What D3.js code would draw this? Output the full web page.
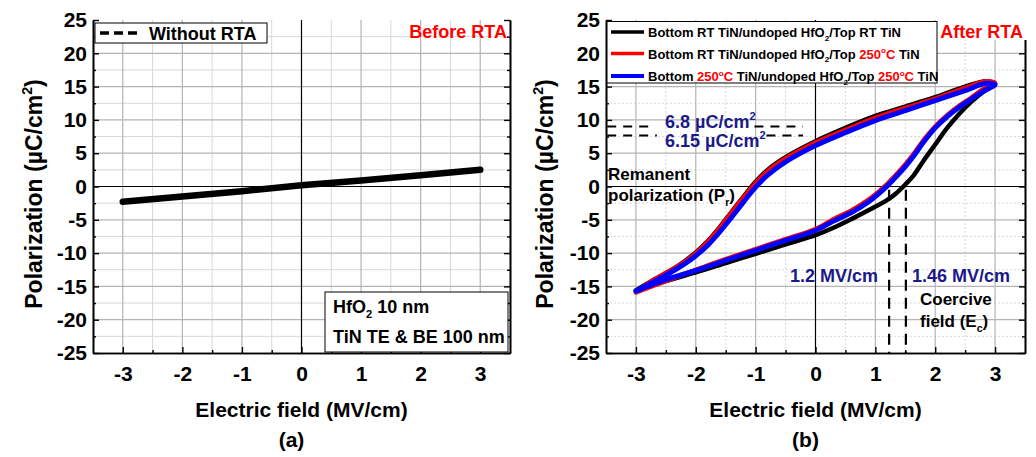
<!DOCTYPE html>
<html>
<head>
<meta charset="utf-8">
<script src="https://cdn.jsdelivr.net/npm/d3@7"></script>
<style>
  body { margin: 0; background: #fff; }
  svg { display: block; font-family: "Liberation Sans", Arial, sans-serif; }
</style>
</head>
<body>
<div id="app"></div>
<script>
(function (d3) {
  'use strict'

  // ---- data ----
  const xTicks = [-3, -2, -1, 0, 1, 2, 3]
  const yTicks = [-25, -20, -15, -10, -5, 0, 5, 10, 15, 20, 25]
  const xMinor = [-2.5, -1.5, -0.5, 0.5, 1.5, 2.5]
  const yMinor = [-22.5, -17.5, -12.5, -7.5, -2.5, 2.5, 7.5, 12.5, 17.5, 22.5]

  // (a) before RTA
  const noRtaField = [-3, -2, -1, 0, 1, 2, 3]
  const noRtaPol = [-2.3, -1.5, -0.7, 0.2, 0.9, 1.7, 2.5]

  // (b) after RTA, hysteresis loops: lower branch (field rising), upper branch (field falling)
  const fieldLower = [-3, -2.5, -2, -1.5, -1, -0.5, 0, 0.3, 0.6, 0.9, 1.2, 1.35, 1.5, 1.65, 1.8, 2.0, 2.2, 2.4, 2.6, 2.8, 3]
  const fieldUpper = [3, 2.85, 2.5, 2.0, 1.5, 1.0, 0.5, 0, -0.5, -0.8, -1.0, -1.2, -1.4, -1.6, -1.8, -2.0, -2.2, -2.4, -2.7, -3]

  const rtRtLower = [-15.6, -14.2, -12.9, -11.5, -10.1, -8.7, -7.3, -6.2, -4.9, -3.5, -2.0, -1.0, 0.3, 1.8, 3.8, 6.3, 8.8, 10.9, 12.7, 14.2, 15.4]
  const rtRtUpper = [15.4, 15.8, 15.0, 13.4, 12.0, 10.6, 8.8, 6.8, 4.4, 2.5, 0.7, -1.5, -3.8, -6.1, -8.2, -9.9, -11.3, -12.5, -14.0, -15.6]

  const rt250Lower = [-15.9, -14.2, -12.5, -10.9, -9.4, -7.9, -6.4, -4.9, -3.6, -1.9, 0.4, 1.8, 3.3, 5.0, 6.9, 9.0, 10.7, 12.1, 13.3, 14.6, 15.5]
  const rt250Upper = [15.5, 15.8, 14.8, 13.2, 11.8, 10.3, 8.5, 6.6, 4.2, 2.3, 0.5, -1.6, -3.9, -6.2, -8.3, -10.0, -11.4, -12.5, -14.0, -15.9]

  const t250Lower = [-15.7, -14.0, -12.6, -11.1, -9.6, -8.1, -6.6, -5.2, -3.9, -2.2, 0.1, 1.5, 3.0, 4.7, 6.6, 8.8, 10.5, 11.9, 13.1, 14.3, 15.3]
  const t250Upper = [15.3, 15.5, 14.4, 12.9, 11.4, 9.9, 8.1, 6.15, 3.7, 1.7, -0.1, -2.3, -4.6, -6.8, -8.8, -10.4, -11.7, -12.8, -14.3, -15.7]

  const remanent = [6.8, 6.15]
  const coercive = [1.2, 1.46]

  const FONT = '"Liberation Sans", Arial, sans-serif'
  const NAVY = '#1a1a8a'

  const svg = d3.select('#app').append('svg')
    .attr('width', 1036)
    .attr('height', 457)

  // draw text made of parts, some raised or lowered
  const richText = function (g, x, y, parts, opts) {
    const fs = opts.size
    const t = g.append('text')
      .attr('x', x).attr('y', y)
      .attr('font-size', fs)
      .attr('font-weight', opts.weight || 'bold')
      .attr('text-anchor', opts.anchor || 'start')
      .attr('fill', opts.fill || '#000')
    if (opts.transform) t.attr('transform', opts.transform)
    let shift = 0
    parts.forEach(function (p) {
      const s = t.append('tspan').text(p.t)
      let want = 0
      if (p.sup) want = -fs * 0.42
      if (p.sub) want = fs * 0.28
      if (want !== shift) { s.attr('dy', want - shift); shift = want }
      if (p.sup || p.sub) s.attr('font-size', fs * 0.62)
      if (p.fill) s.attr('fill', p.fill)
    })
    return t
  }

  const drawFrame = function (g, x, y, minorDash) {
    const [x0, x1] = x.range()
    const [y0, y1] = y.range()
    // grid
    g.append('g').selectAll('line').data(xMinor).enter().append('line')
      .attr('x1', d => x(d)).attr('x2', d => x(d)).attr('y1', y0).attr('y2', y1)
      .attr('stroke', '#d8d8d8').attr('stroke-width', 1)
      .attr('stroke-dasharray', minorDash ? '2,2' : null)
    g.append('g').selectAll('line').data(yMinor).enter().append('line')
      .attr('y1', d => y(d)).attr('y2', d => y(d)).attr('x1', x0).attr('x2', x1)
      .attr('stroke', '#d8d8d8').attr('stroke-width', 1)
      .attr('stroke-dasharray', minorDash ? '2,2' : null)
    g.append('g').selectAll('line').data(xTicks.filter(d => d !== 0)).enter().append('line')
      .attr('x1', d => x(d)).attr('x2', d => x(d)).attr('y1', y0).attr('y2', y1)
      .attr('stroke', '#b4b4b4').attr('stroke-width', 1.2)
    g.append('g').selectAll('line').data(yTicks.filter(d => d !== 0 && d !== 25 && d !== -25)).enter().append('line')
      .attr('y1', d => y(d)).attr('y2', d => y(d)).attr('x1', x0).attr('x2', x1)
      .attr('stroke', '#b4b4b4').attr('stroke-width', 1.2)
    // zero lines
    g.append('line').attr('x1', x(0)).attr('x2', x(0)).attr('y1', y0).attr('y2', y1)
      .attr('stroke', '#000').attr('stroke-width', 1.2)
    g.append('line').attr('x1', x0).attr('x2', x1).attr('y1', y(0)).attr('y2', y(0))
      .attr('stroke', '#000').attr('stroke-width', 1.2)

    // axes
    const styleAxis = function (a) {
      a.select('.domain').attr('stroke', '#000').attr('stroke-width', 1.6)
      a.selectAll('.tick line').attr('stroke', '#000').attr('stroke-width', 1.4)
      a.selectAll('.tick text').attr('fill', '#000').attr('font-size', 21)
        .attr('font-weight', 'bold').attr('font-family', FONT)
    }
    g.append('g').attr('transform', 'translate(' + x0 + ',0)')
      .call(d3.axisLeft(y).tickValues(yTicks).tickSize(-6).tickSizeOuter(0).tickPadding(6).tickFormat(d => String(d)))
      .call(styleAxis)
    g.append('g').attr('transform', 'translate(' + x0 + ',0)')
      .call(d3.axisLeft(y).tickValues(yMinor).tickSize(-3).tickSizeOuter(0).tickFormat(''))
      .call(styleAxis)
    g.append('g').attr('transform', 'translate(' + x1 + ',0)')
      .call(d3.axisRight(y).tickValues(yTicks).tickSize(-6).tickSizeOuter(0).tickFormat(''))
      .call(styleAxis)
    g.append('g').attr('transform', 'translate(' + x1 + ',0)')
      .call(d3.axisRight(y).tickValues(yMinor).tickSize(-3).tickSizeOuter(0).tickFormat(''))
      .call(styleAxis)
    g.append('g').attr('transform', 'translate(0,' + y0 + ')')
      .call(d3.axisBottom(x).tickValues(xTicks).tickSize(-6).tickSizeOuter(0).tickPadding(13).tickFormat(d => String(d)))
      .call(styleAxis)
    g.append('g').attr('transform', 'translate(0,' + y0 + ')')
      .call(d3.axisBottom(x).tickValues(xMinor).tickSize(-3).tickSizeOuter(0).tickFormat(''))
      .call(styleAxis)
  }

  const axisTitles = function (g, x, y, yLabelX, letter) {
    const [x0, x1] = x.range()
    const cx = (x0 + x1) / 2
    richText(g, 0, 0, [{ t: 'Polarization (µC/cm' }, { t: '2', sup: true }, { t: ')' }],
      { size: 23, anchor: 'middle', transform: 'translate(' + yLabelX + ',194) rotate(-90)' })
    g.append('text').attr('x', cx).attr('y', 417).attr('text-anchor', 'middle')
      .attr('font-size', 21).attr('font-weight', 'bold').text('Electric field (MV/cm)')
    g.append('text').attr('x', cx - 10).attr('y', 447).attr('text-anchor', 'middle')
      .attr('font-size', 21).attr('font-weight', 'bold').text(letter)
  }

  // ---------- panel (a) ----------
  const xa = d3.scaleLinear().domain([-3.5, 3.5]).range([93, 510])
  const ya = d3.scaleLinear().domain([-25, 25]).range([353, 20])
  const ga = svg.append('g')
  drawFrame(ga, xa, ya, false)

  const lineA = d3.line().x(d => xa(d[0])).y(d => ya(d[1]))
  ga.append('path')
    .datum(noRtaField.map((e, i) => [e, noRtaPol[i]]))
    .attr('d', lineA)
    .attr('fill', 'none').attr('stroke', '#000').attr('stroke-width', 6.5)
    .attr('stroke-linecap', 'round')

  // legend (a)
  ga.append('rect').attr('x', 95).attr('y', 23).attr('width', 172).attr('height', 20)
    .attr('fill', '#fff').attr('stroke', '#000').attr('stroke-width', 1)
  ga.append('line').attr('x1', 100).attr('x2', 141).attr('y1', 33).attr('y2', 33)
    .attr('stroke', '#000').attr('stroke-width', 3.5).attr('stroke-dasharray', '9,5')
  ga.append('text').attr('x', 149).attr('y', 40).attr('font-size', 18).attr('font-weight', 'bold')
    .text('Without RTA')
  ga.append('text').attr('x', 507).attr('y', 38).attr('text-anchor', 'end')
    .attr('font-size', 18).attr('font-weight', 'bold').attr('fill', '#ff0000').text('Before RTA')

  // sample box (a)
  ga.append('rect').attr('x', 325).attr('y', 292).attr('width', 183).attr('height', 60)
    .attr('fill', '#fff').attr('stroke', '#000').attr('stroke-width', 1)
  richText(ga, 333, 313, [{ t: 'HfO' }, { t: '2', sub: true }, { t: ' 10 nm' }], { size: 18 })
  ga.append('text').attr('x', 333).attr('y', 343).attr('font-size', 18).attr('font-weight', 'bold')
    .text('TiN TE & BE 100 nm')

  axisTitles(ga, xa, ya, 42, '(a)')

  // ---------- panel (b) ----------
  const xb = d3.scaleLinear().domain([-3.5, 3.5]).range([606, 1025])
  const yb = d3.scaleLinear().domain([-25, 25]).range([353, 20])
  const gb = svg.append('g')
  drawFrame(gb, xb, yb, true)

  const loopLine = d3.line()
    .x(d => xb(d[0])).y(d => yb(d[1]))
    .curve(d3.curveCatmullRom.alpha(0.5))

  const loops = [
    { lower: rtRtLower, upper: rtRtUpper, color: '#000000', width: 4.5 },
    { lower: rt250Lower, upper: rt250Upper, color: '#ff0000', width: 4.5 },
    { lower: t250Lower, upper: t250Upper, color: '#0000ff', width: 5 }
  ]
  loops.forEach(function (c) {
    const pts = fieldLower.map((e, i) => [e, c.lower[i]])
      .concat(fieldUpper.slice(1).map((e, i) => [e, c.upper[i + 1]]))
    gb.append('path').datum(pts).attr('d', loopLine)
      .attr('fill', 'none').attr('stroke', c.color).attr('stroke-width', c.width)
      .attr('stroke-linejoin', 'round').attr('stroke-linecap', 'round')
  })

  // remanent polarization guides
  const dash = '9,7'
  const guideY = [9.0, 7.65]
  const guideSeg = [[[-3.48, -2.73], [-1.02, -0.21]], [[-3.48, -2.65], [-0.82, -0.21]]]
  guideY.forEach(function (p, i) {
    guideSeg[i].forEach(function (s) {
      gb.append('line').attr('x1', xb(s[0])).attr('x2', xb(s[1])).attr('y1', yb(p)).attr('y2', yb(p))
        .attr('stroke', '#000').attr('stroke-width', 2).attr('stroke-dasharray', dash)
    })
  })
  richText(gb, 665, 128, [{ t: remanent[0] + ' µC/cm' }, { t: '2', sup: true }], { size: 18, fill: NAVY })
  richText(gb, 665, 147, [{ t: remanent[1] + ' µC/cm' }, { t: '2', sup: true }], { size: 18, fill: NAVY })
  gb.append('text').attr('x', 608).attr('y', 180).attr('font-size', 17).attr('font-weight', 'bold').text('Remanent')
  richText(gb, 608, 201, [{ t: 'polarization (P' }, { t: 'r', sub: true }, { t: ')' }], { size: 17 })

  // coercive field guides
  const guideX = [1.23, 1.51]
  guideX.forEach(function (e) {
    gb.append('line').attr('x1', xb(e)).attr('x2', xb(e)).attr('y1', yb(-0.5)).attr('y2', yb(-25))
      .attr('stroke', '#000').attr('stroke-width', 2.2).attr('stroke-dasharray', '11,7')
  })
  gb.append('text').attr('x', 790).attr('y', 282).attr('font-size', 18).attr('font-weight', 'bold')
    .attr('fill', NAVY).text(coercive[0] + ' MV/cm')
  gb.append('text').attr('x', 912).attr('y', 282).attr('font-size', 18).attr('font-weight', 'bold')
    .attr('fill', NAVY).text(coercive[1] + ' MV/cm')
  gb.append('text').attr('x', 920).attr('y', 305).attr('font-size', 17).attr('font-weight', 'bold').text('Coercive')
  richText(gb, 920, 327, [{ t: 'field (E' }, { t: 'c', sub: true }, { t: ')' }], { size: 17 })

  // legend (b)
  gb.append('rect').attr('x', 936).attr('y', 18).attr('width', 94).attr('height', 22).attr('fill', '#fff')
  gb.append('text').attr('x', 1023).attr('y', 38).attr('text-anchor', 'end')
    .attr('font-size', 18).attr('font-weight', 'bold').attr('fill', '#ff0000').text('After RTA')
  gb.append('rect').attr('x', 607).attr('y', 21.5).attr('width', 330).attr('height', 61.5)
    .attr('fill', '#fff').attr('stroke', '#000').attr('stroke-width', 1)
  const R = '#ff0000'
  const legendRows = [
    [{ t: 'Bottom RT TiN/undoped HfO' }, { t: '2', sub: true }, { t: '/Top RT TiN' }],
    [{ t: 'Bottom RT TiN/undoped HfO' }, { t: '2', sub: true }, { t: '/Top ' }, { t: '250', fill: R }, { t: 'o', sup: true, fill: R }, { t: 'C', fill: R }, { t: ' TiN' }],
    [{ t: 'Bottom ' }, { t: '250', fill: R }, { t: 'o', sup: true, fill: R }, { t: 'C', fill: R }, { t: ' TiN/undoped HfO' }, { t: '2', sub: true }, { t: '/Top ' }, { t: '250', fill: R }, { t: 'o', sup: true, fill: R }, { t: 'C', fill: R }, { t: ' TiN' }]
  ]
  const rowY = [32, 53.5, 76]
  loops.forEach(function (c, i) {
    gb.append('line').attr('x1', 611).attr('x2', 644).attr('y1', rowY[i]).attr('y2', rowY[i])
      .attr('stroke', c.color).attr('stroke-width', i === 2 ? 4 : 3.5)
    richText(gb, 648, rowY[i] + 5, legendRows[i], { size: 13 })
  })

  axisTitles(gb, xb, yb, 553, '(b)')
})(d3)
</script>
</body>
</html>
